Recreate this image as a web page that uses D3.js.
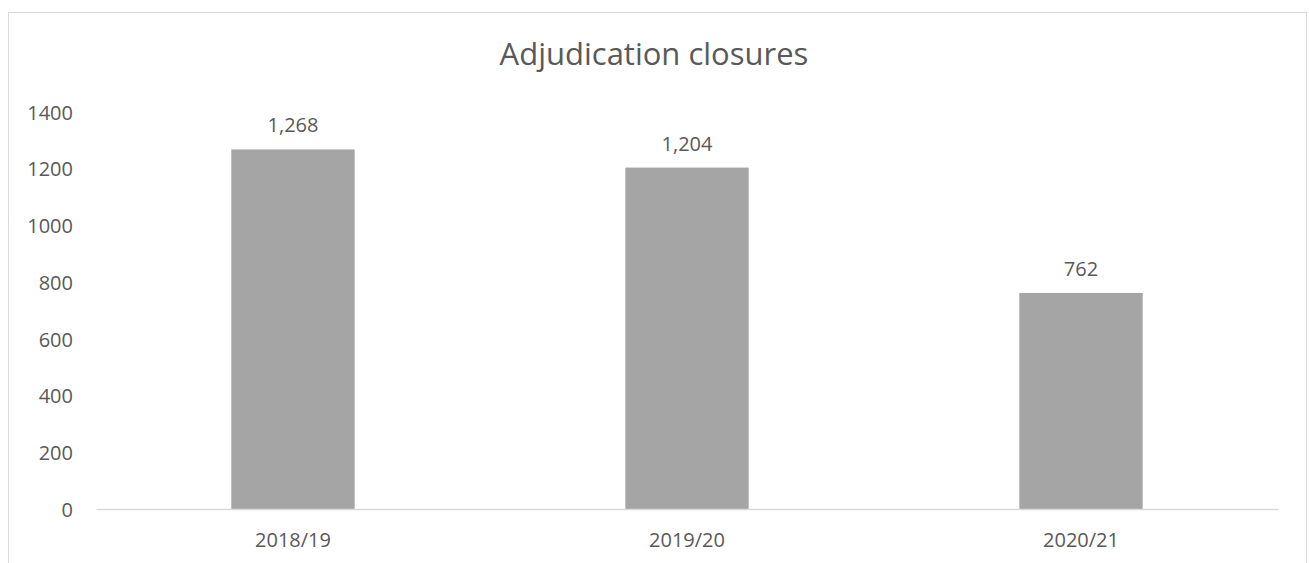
<!DOCTYPE html>
<html>
<head>
<meta charset="utf-8">
<script src="https://cdn.jsdelivr.net/npm/d3@7"></script>
<style>
  html, body { margin: 0; padding: 0; background: #fff; overflow: hidden; }
  svg { display: block; }
  text { font-family: "Open Sans", "Noto Sans", sans-serif; fill: #595959; }
</style>
</head>
<body>
<svg id="chart" width="1309" height="563"></svg>
<script>
// Adjudication closures by financial year
const years = ["2018/19", "2019/20", "2020/21"];
const closures = [1268, 1204, 762];
const yTicks = [0, 200, 400, 600, 800, 1000, 1200, 1400];
const title = "Adjudication closures";

const svg = d3.select("#chart");
const plot = { left: 96, right: 1278, top: 112, bottom: 509 };

// chart area frame
svg.append("rect")
  .attr("x", 8.5).attr("y", 12.5)
  .attr("width", 1298).attr("height", 600)
  .attr("fill", "#fff")
  .attr("stroke", "#d9d9d9")
  .attr("stroke-width", 1);

const x = d3.scaleBand().domain(years).range([plot.left, plot.right]).padding(0);
const y = d3.scaleLinear().domain([0, 1400]).range([plot.bottom, plot.top]);
const barW = x.bandwidth() * 0.313;

// title
svg.append("text")
  .attr("x", 654)
  .attr("y", 65)
  .attr("text-anchor", "middle")
  .style("font-size", "31px")
  .text(title);

// y axis labels (no line, no ticks)
const yAxis = d3.axisLeft(y).tickValues(yTicks).tickSize(0).tickPadding(0).tickFormat(d3.format("d"));
const yg = svg.append("g").attr("transform", `translate(${73},0)`).call(yAxis);
yg.select(".domain").remove();
yg.selectAll("text")
  .style("font-size", "20px")
  .style("font-family", null)
  .attr("fill", "#595959")
  .attr("dy", "0.36em");

// bars
svg.append("g").selectAll("rect")
  .data(years)
  .join("rect")
  .attr("x", (d) => x(d) + (x.bandwidth() - barW) / 2)
  .attr("y", (d, i) => y(closures[i]))
  .attr("width", barW)
  .attr("height", (d, i) => y(0) - y(closures[i]))
  .attr("fill", "#a5a5a5");

// value labels
svg.append("g").selectAll("text")
  .data(years)
  .join("text")
  .attr("x", (d) => x(d) + x.bandwidth() / 2)
  .attr("y", (d, i) => y(closures[i]) - 17)
  .attr("text-anchor", "middle")
  .style("font-size", "20px")
  .text((d, i) => d3.format(",")(closures[i]));

// category axis
const xAxis = d3.axisBottom(x).tickSize(0).tickPadding(0);
const xg = svg.append("g").attr("transform", `translate(0,${plot.bottom})`).call(xAxis);
xg.select(".domain").attr("stroke", "#d9d9d9").attr("stroke-width", 1.5);
xg.selectAll("text")
  .style("font-size", "20px")
  .style("font-family", null)
  .attr("fill", "#595959")
  .attr("dy", "0")
  .attr("y", 38);
</script>
</body>
</html>
